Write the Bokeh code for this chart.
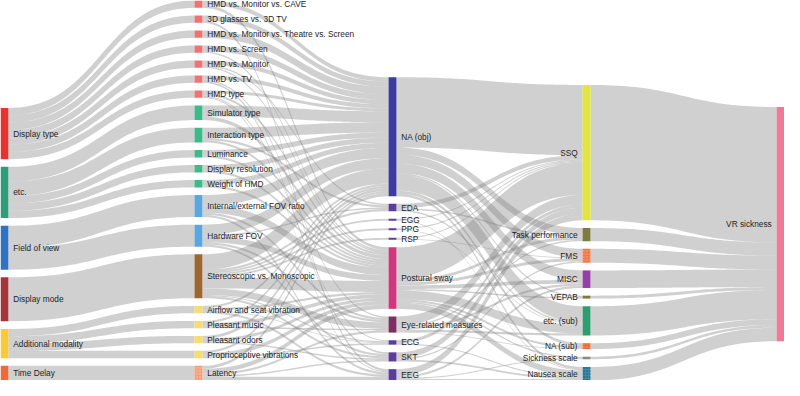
import numpy as np
from collections import defaultdict
from bokeh.plotting import figure
from bokeh.models import Range1d, ColumnDataSource
from bokeh.embed import file_html
from bokeh.resources import INLINE
from bokeh.core.properties import value

# ---------------- data ----------------
# nodes per column, top to bottom
factor_groups = ["Display type", "etc.", "Field of view", "Display mode",
                 "Additional modality", "Time Delay"]
factor_group_colors = ["#e8322e", "#2e9e7a", "#2f72c2", "#a3363a", "#f9c93a", "#ee6a3a"]

factors = ["HMD vs. Monitor vs. CAVE", "3D glasses vs. 3D TV",
           "HMD vs. Monitor vs. Theatre vs. Screen", "HMD vs. Screen",
           "HMD vs. Monitor", "HMD vs. TV", "HMD type",
           "Simulator type", "Interaction type", "Luminance", "Display resolution",
           "Weight of HMD", "Internal/external FOV ratio", "Hardware FOV",
           "Stereoscopic vs. Monoscopic", "Airflow and seat vibration",
           "Pleasant music", "Pleasant odors", "Proprioceptive vibrations", "Latency"]
factor_parent = ["Display type"] * 7 + ["etc."] * 5 + ["Field of view"] * 2 + \
                ["Display mode"] + ["Additional modality"] * 4 + ["Time Delay"]
factor_values = [1, 1, 1, 1, 1, 1, 1, 2, 2, 1, 1, 1, 3, 3, 6, 1, 1, 1, 1, 2]
factor_colors = ["#f07272"] * 7 + ["#3dba8c"] * 5 + ["#5aa6e0"] * 2 + ["#9c6630"] + \
                ["#f9dc6a"] * 4 + ["#f4a07a"]

objective = ["NA (obj)", "EDA", "EGG", "PPG", "RSP", "Postural sway",
             "Eye-related measures", "ECG", "SKT", "EEG"]
objective_colors = ["#3b3ba0", "#5c3c9c", "#5c3c9c", "#5c3c9c", "#5c3c9c", "#d2367f",
                    "#7e2f62", "#5c3c9c", "#5c3c9c", "#5c3c9c"]

subjective = ["SSQ", "Task performance", "FMS", "MISC", "VEPAB", "etc. (sub)",
              "NA (sub)", "Sickness scale", "Nausea scale"]
subjective_colors = ["#e2e53c", "#7f7a40", "#f7704f", "#9440a8", "#7d7a3c", "#2e9e70",
                     "#ee6a30", "#888888", "#3a8aa8"]

outcome = ["VR sickness"]
outcome_colors = ["#f07898"]

# factor -> objective measure flows
factor_to_objective = [
    ("HMD vs. Monitor vs. CAVE", "NA (obj)", 0.6), ("HMD vs. Monitor vs. CAVE", "Postural sway", 0.4),
    ("3D glasses vs. 3D TV", "NA (obj)", 0.7), ("3D glasses vs. 3D TV", "EEG", 0.3),
    ("HMD vs. Monitor vs. Theatre vs. Screen", "NA (obj)", 1.0),
    ("HMD vs. Screen", "NA (obj)", 0.8), ("HMD vs. Screen", "Postural sway", 0.2),
    ("HMD vs. Monitor", "NA (obj)", 0.6), ("HMD vs. Monitor", "EDA", 0.2), ("HMD vs. Monitor", "Postural sway", 0.2),
    ("HMD vs. TV", "NA (obj)", 0.55), ("HMD vs. TV", "Eye-related measures", 0.2), ("HMD vs. TV", "SKT", 0.25),
    ("HMD type", "NA (obj)", 0.4), ("HMD type", "Postural sway", 0.3), ("HMD type", "ECG", 0.15), ("HMD type", "EEG", 0.15),
    ("Simulator type", "NA (obj)", 1.5), ("Simulator type", "Postural sway", 0.5),
    ("Interaction type", "NA (obj)", 1.4), ("Interaction type", "EDA", 0.3), ("Interaction type", "Postural sway", 0.3),
    ("Luminance", "NA (obj)", 0.7), ("Luminance", "Postural sway", 0.3),
    ("Display resolution", "NA (obj)", 0.7), ("Display resolution", "Postural sway", 0.3),
    ("Weight of HMD", "NA (obj)", 0.7), ("Weight of HMD", "Postural sway", 0.3),
    ("Internal/external FOV ratio", "NA (obj)", 1.4), ("Internal/external FOV ratio", "Postural sway", 1.0),
    ("Internal/external FOV ratio", "Eye-related measures", 0.3), ("Internal/external FOV ratio", "EEG", 0.3),
    ("Hardware FOV", "NA (obj)", 1.4), ("Hardware FOV", "EDA", 0.2), ("Hardware FOV", "Postural sway", 0.8),
    ("Hardware FOV", "Eye-related measures", 0.3), ("Hardware FOV", "SKT", 0.3),
    ("Stereoscopic vs. Monoscopic", "NA (obj)", 2.1), ("Stereoscopic vs. Monoscopic", "EDA", 0.3),
    ("Stereoscopic vs. Monoscopic", "EGG", 0.25), ("Stereoscopic vs. Monoscopic", "PPG", 0.25),
    ("Stereoscopic vs. Monoscopic", "RSP", 0.25), ("Stereoscopic vs. Monoscopic", "Postural sway", 1.5),
    ("Stereoscopic vs. Monoscopic", "Eye-related measures", 0.9), ("Stereoscopic vs. Monoscopic", "ECG", 0.15),
    ("Stereoscopic vs. Monoscopic", "SKT", 0.3),
    ("Airflow and seat vibration", "NA (obj)", 0.3), ("Airflow and seat vibration", "Postural sway", 0.3),
    ("Airflow and seat vibration", "ECG", 0.1), ("Airflow and seat vibration", "EEG", 0.3),
    ("Pleasant music", "NA (obj)", 0.3), ("Pleasant music", "Postural sway", 0.5), ("Pleasant music", "Eye-related measures", 0.2),
    ("Pleasant odors", "NA (obj)", 0.4), ("Pleasant odors", "Postural sway", 0.4), ("Pleasant odors", "SKT", 0.2),
    ("Proprioceptive vibrations", "NA (obj)", 0.3), ("Proprioceptive vibrations", "Postural sway", 0.5),
    ("Proprioceptive vibrations", "ECG", 0.2),
    ("Latency", "NA (obj)", 0.4), ("Latency", "Postural sway", 0.6), ("Latency", "Eye-related measures", 0.3),
    ("Latency", "SKT", 0.2), ("Latency", "EEG", 0.5),
]

# objective -> subjective measure flows
objective_to_subjective = [
    ("NA (obj)", "SSQ", 9.6), ("NA (obj)", "Task performance", 1.0), ("NA (obj)", "FMS", 1.2),
    ("NA (obj)", "MISC", 1.3), ("NA (obj)", "VEPAB", 0.2), ("NA (obj)", "etc. (sub)", 2.2),
    ("NA (obj)", "NA (sub)", 0.4), ("NA (obj)", "Nausea scale", 0.35),
    ("EDA", "SSQ", 0.6), ("EDA", "Task performance", 0.2), ("EDA", "etc. (sub)", 0.2),
    ("EGG", "SSQ", 0.15), ("EGG", "Nausea scale", 0.1),
    ("PPG", "SSQ", 0.15), ("PPG", "etc. (sub)", 0.1),
    ("RSP", "SSQ", 0.15), ("RSP", "FMS", 0.1),
    ("Postural sway", "SSQ", 4.4), ("Postural sway", "Task performance", 0.4), ("Postural sway", "FMS", 0.4),
    ("Postural sway", "MISC", 0.5), ("Postural sway", "VEPAB", 0.2), ("Postural sway", "etc. (sub)", 1.2),
    ("Postural sway", "NA (sub)", 0.3), ("Postural sway", "Sickness scale", 0.2), ("Postural sway", "Nausea scale", 0.8),
    ("Eye-related measures", "SSQ", 1.3), ("Eye-related measures", "Task performance", 0.2),
    ("Eye-related measures", "MISC", 0.3), ("Eye-related measures", "etc. (sub)", 0.3),
    ("Eye-related measures", "NA (sub)", 0.1),
    ("ECG", "SSQ", 0.45), ("ECG", "Nausea scale", 0.15),
    ("SKT", "SSQ", 0.8), ("SKT", "FMS", 0.2), ("SKT", "Nausea scale", 0.25),
    ("EEG", "SSQ", 0.9), ("EEG", "MISC", 0.3), ("EEG", "Sickness scale", 0.15), ("EEG", "Nausea scale", 0.2),
]

hatched_nodes = {"Latency": "#fbc7a8", "FMS": "#f3c25a", "NA (sub)": "#f4a860", "Nausea scale": "#1e4c6a"}

# ---------------- layout (sankey) ----------------
W, H = 800.0, 396.0
NODE_W = 8.0
PAD = 8.0
LABEL_GAP = 5.0

columns = [factor_groups, factors, objective, subjective, outcome]
col_colors = [factor_group_colors, factor_colors, objective_colors, subjective_colors, outcome_colors]

links = [(par, f, v) for f, par, v in zip(factors, factor_parent, factor_values)]
links += factor_to_objective + objective_to_subjective
sub_totals = defaultdict(float)
for s, t, v in objective_to_subjective:
    sub_totals[t] += v
links += [(s, "VR sickness", sub_totals[s]) for s in subjective]

node_in, node_out = defaultdict(float), defaultdict(float)
for s, t, v in links:
    node_out[s] += v
    node_in[t] += v
node_val = {n: max(node_in[n], node_out[n]) for c in columns for n in c}
node_col = {n: i for i, c in enumerate(columns) for n in c}

k = min((H - (len(c) - 1) * PAD) / sum(node_val[n] for n in c) for c in columns)
ncol = len(columns)
col_x = [i * (W - NODE_W) / (ncol - 1) for i in range(ncol)]

y0, y1 = {}, {}
for ci, c in enumerate(columns[:-1]):
    total = sum(node_val[n] * k for n in c) + (len(c) - 1) * PAD
    y = H - total
    for n in c:
        y0[n] = y
        y1[n] = y + node_val[n] * k
        y += node_val[n] * k + PAD
# last column: between the weighted mean of its sources and the centre of their span
for n in columns[-1]:
    srcs = [(s, v) for s, t, v in links if t == n]
    wmean = sum(v * (y0[s] + y1[s]) / 2 for s, v in srcs) / sum(v for s, v in srcs)
    span_mid = (min(y0[s] for s, v in srcs) + max(y1[s] for s, v in srcs)) / 2
    h = node_val[n] * k
    yc = min(max((wmean + span_mid) / 2, h / 2), H - h / 2)
    y0[n], y1[n] = yc - h / 2, yc + h / 2

# link offsets inside nodes
out_links = defaultdict(list)
in_links = defaultdict(list)
for li, (s, t, v) in enumerate(links):
    out_links[s].append(li)
    in_links[t].append(li)
sy, ty = {}, {}
for n, lis in out_links.items():
    y = y0[n]
    for li in sorted(lis, key=lambda i: y0[links[i][1]]):
        sy[li] = y
        y += links[li][2] * k
for n, lis in in_links.items():
    y = y0[n]
    for li in sorted(lis, key=lambda i: y0[links[i][0]]):
        ty[li] = y
        y += links[li][2] * k

tt = np.linspace(0, 1, 48)
bx = 1.5 * tt - 1.5 * tt ** 2 + tt ** 3
by = 3 * tt ** 2 - 2 * tt ** 3
xs_list, ys_list = [], []
for li, (s, t, v) in enumerate(links):
    xa = col_x[node_col[s]] + NODE_W
    xb = col_x[node_col[t]]
    w = v * k
    x = xa + (xb - xa) * bx
    top = sy[li] + (ty[li] - sy[li]) * by
    bot = top + w
    xs_list.append(np.concatenate([x, x[::-1]]).tolist())
    ys_list.append(np.concatenate([top, bot[::-1]]).tolist())

# ---------------- drawing ----------------
p = figure(width=784, height=380, x_range=Range1d(0, W), y_range=Range1d(H, 0),
           output_backend="svg", toolbar_location=None, min_border=0,
           x_axis_location=None, y_axis_location=None)
p.grid.visible = False
p.outline_line_color = None
p.background_fill_color = "white"
p.border_fill_color = "white"

p.patches(xs=xs_list, ys=ys_list, fill_color="#7f7f7f", fill_alpha=0.37, line_color=None)

nl, nr, nt, nb, nc, nh, nhc = [], [], [], [], [], [], []
for ci, c in enumerate(columns):
    for n, col in zip(c, col_colors[ci]):
        nl.append(col_x[ci]); nr.append(col_x[ci] + NODE_W)
        nt.append(y0[n]); nb.append(y1[n]); nc.append(col)
        nh.append("dot" if n in hatched_nodes else "blank")
        nhc.append(hatched_nodes.get(n, col))
nsrc = ColumnDataSource(dict(left=nl, right=nr, top=nt, bottom=nb, color=nc, hatch=nh, hcolor=nhc))
p.quad(left="left", right="right", top="top", bottom="bottom", source=nsrc,
       fill_color="color", line_color=None, hatch_pattern="hatch", hatch_color="hcolor",
       hatch_scale=3, hatch_weight=1.2)

lx, ly, lt, rx, ry, rt = [], [], [], [], [], []
for ci, c in enumerate(columns):
    for n in c:
        yc = (y0[n] + y1[n]) / 2
        if ci <= 2:
            lx.append(col_x[ci] + NODE_W + LABEL_GAP); ly.append(yc); lt.append(n)
        else:
            rx.append(col_x[ci] - LABEL_GAP); ry.append(yc); rt.append(n)

p.text(x=lx, y=ly, text=lt, text_font=value("Liberation Sans"), text_font_size="8.3px",
       text_align="left", text_baseline="middle", text_color="#1e1e1e")
p.text(x=rx, y=ry, text=rt, text_font=value("Liberation Sans"), text_font_size="8.3px",
       text_align="right", text_baseline="middle", text_color="#1e1e1e")

open("out.html", "w").write(file_html(p, INLINE))
